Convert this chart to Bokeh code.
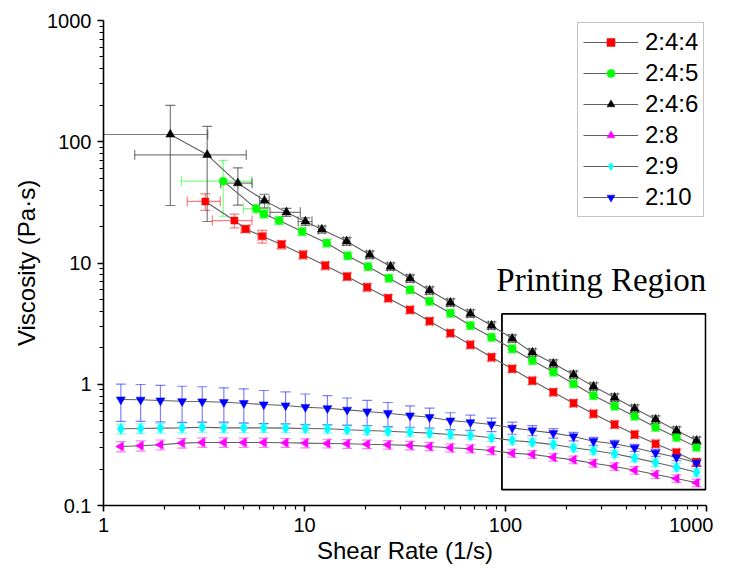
import math
from bokeh.plotting import figure
from bokeh.models import (ColumnDataSource, Whisker, TeeHead, Range1d, FixedTicker,
                          CustomJSTickFormatter, Legend, LegendItem, Label, BoxAnnotation)
from bokeh.embed import file_html
from bokeh.resources import INLINE

# ---------------- data ----------------
x_high = [33.5, 41.9, 53.2, 66.9, 85.2, 108, 136, 173, 218, 274, 349, 439, 558, 709, 892]

x_low = [1.22, 1.53, 1.92, 2.46, 3.10, 3.97, 4.99, 6.27, 8.05, 10.1, 13.0, 16.3, 20.5, 26.0] + x_high

red_x = [3.21, 4.48, 5.09, 6.16, 7.69, 9.85, 12.7, 16.3, 20.5, 26.1] + x_high
red_y = [32.2, 22.4, 19.1, 16.6, 14.2, 11.7, 9.53, 7.74, 6.31, 5.13, 4.11, 3.31, 2.64, 2.12, 1.67,
         1.34, 1.07, 0.86, 0.698, 0.571, 0.466, 0.385, 0.323, 0.274, 0.228]
red_yerr = [5.0, 2.9, 1.3, 2.0, 1.1, 0.9, 0.7, 0.55, 0.45, 0.36, 0.29, 0.23, 0.18, 0.15, 0.12,
            0.09, 0.075, 0.06, 0.049, 0.04, 0.033, 0.027, 0.023, 0.019, 0.016]
red_xerr = [0.6, 1.0, 0.25, 0.3, 0.3, 0.35, 0.45, 0.6, 0.7, 0.9, 1.2, 1.5, 1.9, 2.3, 3.0,
            3.8, 4.8, 6.0, 7.6, 9.6, 12, 15, 19, 25, 31]

green_x = [3.94, 5.75, 6.27, 7.48, 9.74, 12.9, 16.4, 20.7, 26.3] + x_high
green_y = [47.3, 28.1, 25.4, 22.4, 18.2, 14.6, 11.5, 9.35, 7.49, 6.01, 4.84, 3.85, 3.05, 2.44,
           1.96, 1.57, 1.26, 1.01, 0.807, 0.659, 0.545, 0.442, 0.366, 0.303]
green_yerr = [23, 2.2, 1.8, 1.6, 1.3, 1.0, 0.8, 0.65, 0.52, 0.42, 0.34, 0.27, 0.21, 0.17,
              0.14, 0.11, 0.088, 0.071, 0.056, 0.046, 0.038, 0.031, 0.026, 0.021]
green_xerr = [1.5, 0.78, 0.25, 0.3, 0.35, 0.45, 0.6, 0.7, 0.9, 1.2, 1.5, 1.9, 2.3, 3.0,
              3.8, 4.8, 6.0, 7.6, 9.6, 12, 15, 19, 25, 31]

black_x = [2.15, 3.28, 4.66, 6.32, 8.13, 10.1, 12.2, 16.2, 21.1, 26.8] + x_high
black_y = [114.8, 78.0, 45.5, 32.7, 26.2, 22.0, 18.9, 15.1, 11.7, 9.35, 7.45, 5.93, 4.72, 3.83,
           3.05, 2.38, 1.83, 1.48, 1.20, 0.957, 0.777, 0.630, 0.512, 0.415, 0.343]
black_yerr = [85, 56, 15.5, 4.2, 2.0, 1.6, 1.3, 1.1, 0.85, 0.67, 0.53, 0.42, 0.34, 0.27,
              0.22, 0.17, 0.13, 0.11, 0.085, 0.068, 0.055, 0.045, 0.036, 0.03, 0.024]
black_xerr = [1.15, 1.85, 0.83, 0.35, 1.4, 0.8, 0.45, 0.6, 0.75, 0.95, 1.2, 1.5, 1.9, 2.3,
              3.0, 3.8, 4.8, 6.0, 7.6, 9.6, 12, 15, 19, 25, 31]

mag_y = [0.307, 0.311, 0.317, 0.327, 0.331, 0.331, 0.331, 0.331, 0.329, 0.327, 0.325, 0.323,
         0.320, 0.317, 0.313, 0.307, 0.299, 0.294, 0.284, 0.270, 0.264, 0.250, 0.238, 0.223,
         0.210, 0.195, 0.180, 0.167, 0.154]
mag_yerr = [0.03, 0.03, 0.03, 0.03, 0.03, 0.03, 0.029, 0.029, 0.028, 0.028, 0.027, 0.027, 0.026,
            0.026, 0.025, 0.024, 0.023, 0.022, 0.021, 0.02, 0.019, 0.018, 0.017, 0.016, 0.015,
            0.014, 0.013, 0.012, 0.011]

cyan_y = [0.429, 0.432, 0.435, 0.437, 0.442, 0.437, 0.437, 0.437, 0.435, 0.432, 0.429, 0.421,
          0.416, 0.410, 0.402, 0.395, 0.385, 0.378, 0.362, 0.344, 0.333, 0.318, 0.299, 0.284,
          0.267, 0.247, 0.226, 0.207, 0.188]
cyan_yerr = [0.04, 0.04, 0.04, 0.04, 0.04, 0.038, 0.037, 0.036, 0.035, 0.034, 0.033, 0.032, 0.031,
             0.03, 0.029, 0.028, 0.027, 0.026, 0.025, 0.024, 0.022, 0.021, 0.02, 0.019, 0.018,
             0.017, 0.016, 0.015, 0.014]

blue_y = [0.748, 0.745, 0.734, 0.724, 0.721, 0.711, 0.698, 0.681, 0.668, 0.647, 0.634, 0.615,
          0.596, 0.577, 0.552, 0.535, 0.502, 0.486, 0.466, 0.437, 0.416, 0.395, 0.371, 0.339,
          0.323, 0.299, 0.272, 0.250, 0.225]
blue_yerr = [0.254, 0.25, 0.245, 0.239, 0.233, 0.224, 0.218, 0.207, 0.197, 0.184, 0.171, 0.155,
             0.139, 0.13, 0.11, 0.10, 0.08, 0.07, 0.06, 0.05, 0.04, 0.035, 0.03, 0.025, 0.022,
             0.02, 0.018, 0.016, 0.015]

series_labels = ["2:4:4", "2:4:5", "2:4:6", "2:8", "2:9", "2:10"]

region_x = [96, 990]
region_y = [0.135, 3.8]
region_text = "Printing Region"

# ---------------- figure ----------------
p = figure(width=713, height=567, x_axis_type="log", y_axis_type="log",
           x_range=Range1d(1, 1000), y_range=Range1d(0.1, 1000),
           output_backend="svg", toolbar_location=None,
           min_border_left=103, min_border_right=7, min_border_top=20, min_border_bottom=62)
p.outline_line_color = None
p.grid.visible = False
p.background_fill_color = "white"

FONT = "Liberation Sans"
fmt = CustomJSTickFormatter(code="return String(tick);")

p.xaxis.ticker = FixedTicker(ticks=[1, 10, 100, 1000],
                             minor_ticks=[m * 10 ** e for e in range(0, 3) for m in range(2, 10)])
p.yaxis.ticker = FixedTicker(ticks=[0.1, 1, 10, 100, 1000],
                             minor_ticks=[m * 10.0 ** e for e in range(-1, 3) for m in range(2, 10)])
for ax in (p.xaxis[0], p.yaxis[0]):
    ax.formatter = fmt
    ax.axis_line_width = 1.6
    ax.axis_line_color = "black"
    ax.major_tick_line_width = 1.6
    ax.minor_tick_line_width = 1.2
    ax.major_tick_in = 0
    ax.major_tick_out = 6
    ax.minor_tick_in = 0
    ax.minor_tick_out = 4
    ax.major_label_text_font = FONT
    ax.major_label_text_font_size = "20px"
    ax.major_label_text_color = "black"
    ax.axis_label_text_font = FONT
    ax.axis_label_text_font_size = "24px"
    ax.axis_label_text_font_style = "normal"
    ax.axis_label_text_color = "black"
    ax.major_label_standoff = 6

p.xaxis.axis_label = "Shear Rate (1/s)"
p.yaxis.axis_label = "Viscosity (Pa\u00b7s)"
p.xaxis.axis_label_standoff = 2
p.yaxis.axis_label_standoff = 4

# printing region box
p.add_layout(BoxAnnotation(left=region_x[0], right=region_x[1], bottom=region_y[0], top=region_y[1],
                           fill_alpha=0, line_color="black", line_alpha=1, line_width=1.8,
                           level="underlay"))
p.add_layout(Label(x=90, y=7.2, text=region_text, text_font="Liberation Serif",
                   text_font_size="33px", text_color="black", text_baseline="alphabetic"))

LINE_COLOR = "#5f5f5f"

series = [
    (red_x, red_y, red_yerr, red_xerr, "#ff0000", "square", 7, 0.0),
    (green_x, green_y, green_yerr, green_xerr, "#00ff00", "circle", 8, 0.0),
    (black_x, black_y, black_yerr, black_xerr, "#000000", "triangle", 9, 0.0),
    (x_low, mag_y, mag_yerr, None, "#ff00ff", "triangle", 9, math.pi / 2),
    (x_low, cyan_y, cyan_yerr, None, "#00ffff", "diamond", 11, 0.0),
    (x_low, blue_y, blue_yerr, None, "#0000ff", "inverted_triangle", 9, 0.0),
]

items = []
for (xs, ys, ye, xe, color, marker, size, ang), lab in zip(series, series_labels):
    data = dict(x=xs, y=ys,
                ylo=[v - e for v, e in zip(ys, ye)],
                yhi=[v + e for v, e in zip(ys, ye)])
    if xe is not None:
        data["xlo"] = [v - e for v, e in zip(xs, xe)]
        data["xhi"] = [v + e for v, e in zip(xs, xe)]
    src = ColumnDataSource(data)
    ecol = color if color != "#000000" else "#444444"
    ealpha = 0.5 if color != "#000000" else 0.7
    p.add_layout(Whisker(source=src, base="x", lower="ylo", upper="yhi", dimension="height",
                         line_color=ecol, line_alpha=ealpha, line_width=1.2, level="underlay",
                         upper_head=TeeHead(size=10, line_color=ecol, line_alpha=ealpha, line_width=1.2),
                         lower_head=TeeHead(size=10, line_color=ecol, line_alpha=ealpha, line_width=1.2)))
    if xe is not None:
        p.add_layout(Whisker(source=src, base="y", lower="xlo", upper="xhi", dimension="width",
                             line_color=ecol, line_alpha=ealpha, line_width=1.2, level="underlay",
                             upper_head=TeeHead(size=10, line_color=ecol, line_alpha=ealpha, line_width=1.2),
                             lower_head=TeeHead(size=10, line_color=ecol, line_alpha=ealpha, line_width=1.2)))
    lr = p.line("x", "y", source=src, line_color=LINE_COLOR, line_width=1.1)
    sr = p.scatter("x", "y", source=src, marker=marker, size=size, angle=ang,
                   fill_color=color, line_color=color, line_width=0.5)
    items.append(LegendItem(label=lab, renderers=[lr, sr]))

legend = Legend(items=items, location=(474, 288), orientation="vertical",
                label_text_font=FONT, label_text_font_size="24px", label_text_color="black",
                glyph_width=55, glyph_height=20, label_height=24, label_standoff=7,
                spacing=3, padding=5, margin=0,
                border_line_color="#8a8a8a", border_line_width=1.2,
                background_fill_color="white", background_fill_alpha=1)
p.add_layout(legend)

open("out.html", "w").write(file_html(p, INLINE))
